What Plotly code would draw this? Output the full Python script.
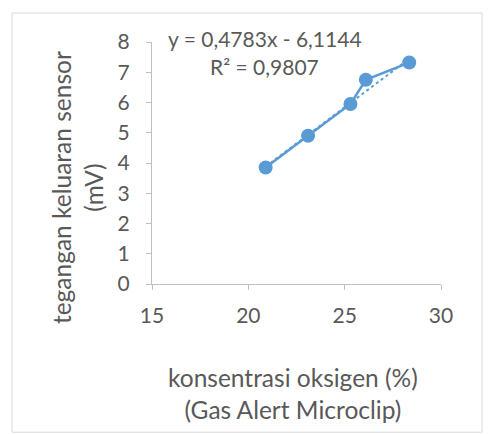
"""Tegangan keluaran sensor vs konsentrasi oksigen (Plotly)."""

import plotly.graph_objects as go

KONSENTRASI = [20.9, 23.1, 25.3, 26.1, 28.35]
TEGANGAN = [3.85, 4.9, 5.95, 6.75, 7.32]
SLOPE = 0.4783
INTERCEPT = -6.1144
R2 = 0.9807

X_TICKS = [15, 20, 25, 30]
Y_TICKS = [0, 1, 2, 3, 4, 5, 6, 7, 8]

BLUE = "#5B9BD5"
TEXT = "#595959"
AXIS = "#BFBFBF"
FONT = "Lato"

x_trend = [min(KONSENTRASI), max(KONSENTRASI)]
y_trend = [SLOPE * x + INTERCEPT for x in x_trend]

fig = go.Figure()
fig.add_trace(go.Scatter(
    x=x_trend, y=y_trend, mode="lines",
    line=dict(color=BLUE, width=2, dash="dot"),
    hoverinfo="skip",
))
fig.add_trace(go.Scatter(
    x=KONSENTRASI, y=TEGANGAN, mode="lines+markers",
    line=dict(color=BLUE, width=2.5),
    marker=dict(color=BLUE, size=14),
))

axis_style = dict(
    showgrid=False, zeroline=False,
    showline=True, linecolor=AXIS, linewidth=1,
    ticks="outside", ticklen=5, tickcolor=AXIS,
    tickfont=dict(family=FONT, size=21, color=TEXT),
)
fig.update_xaxes(range=[15, 30], tickvals=X_TICKS, ticklabelstandoff=8, **axis_style)
fig.update_yaxes(range=[0, 8], tickvals=Y_TICKS, ticklabelstandoff=12, **axis_style)

fig.add_annotation(
    text=f"y = {SLOPE:.4f}x - {abs(INTERCEPT):.4f}".replace(".", ","),
    xref="paper", yref="paper", x=0.391, y=1.0165,
    xanchor="center", yanchor="middle", showarrow=False,
    font=dict(family=FONT, size=21, color=TEXT),
)
fig.add_annotation(
    text=f"R² = {R2:.4f}".replace(".", ","),
    xref="paper", yref="paper", x=0.391, y=0.897,
    xanchor="center", yanchor="middle", showarrow=False,
    font=dict(family=FONT, size=21, color=TEXT),
)
fig.add_annotation(
    text="tegangan keluaran sensor<br>(mV)",
    xref="paper", yref="paper", x=-0.26, y=0.40, textangle=-90,
    xanchor="center", yanchor="middle", showarrow=False,
    font=dict(family=FONT, size=24.5, color=TEXT),
)
fig.add_annotation(
    text="konsentrasi oksigen (%)<br>(Gas Alert Microclip)",
    xref="paper", yref="paper", x=0.488, y=-0.453,
    xanchor="center", yanchor="middle", showarrow=False,
    font=dict(family=FONT, size=24.5, color=TEXT),
)

# bingkai luar area grafik
fig.add_shape(
    type="rect", xref="paper", yref="paper",
    x0=-0.4844, x1=1.1419, y0=-0.6125, y1=1.1197,
    line=dict(color="#D9D9D9", width=1),
)

# halaman menggeser gambar 8 px, jadi ukurannya dikurangi
fig.update_layout(
    width=484, height=426,
    margin=dict(l=144, r=51, t=34, b=150),
    paper_bgcolor="white", plot_bgcolor="white",
    showlegend=False,
)
fig.write_html("out.html")
